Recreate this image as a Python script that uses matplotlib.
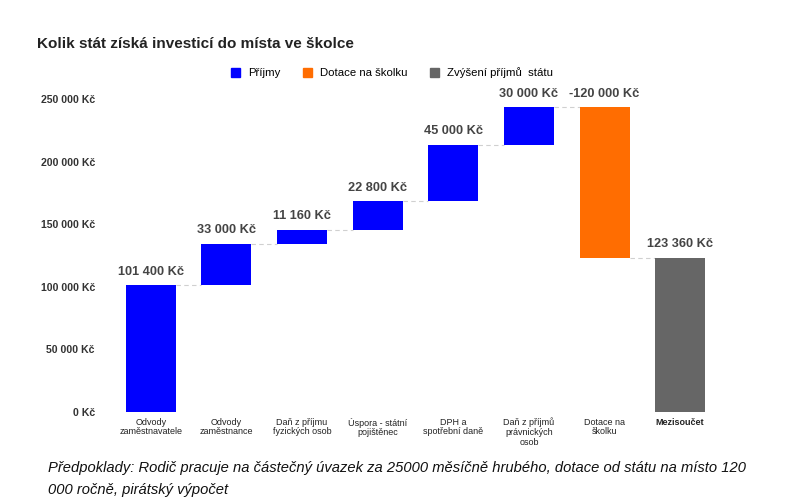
import numpy as np
import matplotlib.pyplot as plt
from matplotlib.patches import Patch

plt.rcParams['font.family'] = ['Liberation Sans', 'DejaVu Sans']

categories = ["Odvody\nzaměstnavatele", "Odvody\nzaměstnance", "Daň z příjmu\nfyzických osob",
              "Úspora - státní\npojištěnec", "DPH a\nspotřební daně", "Daň z příjmů\nprávnických\nosob",
              "Dotace na\nškolku", "Mezisoučet"]
changes = [101400, 33000, 11160, 22800, 45000, 30000, -120000]
labels = ["101 400 Kč", "33 000 Kč", "11 160 Kč", "22 800 Kč", "45 000 Kč", "30 000 Kč",
          "-120 000 Kč", "123 360 Kč"]
ticks = [0, 50000, 100000, 150000, 200000, 250000]
tick_labels = ["0 Kč", "50 000 Kč", "100 000 Kč", "150 000 Kč", "200 000 Kč", "250 000 Kč"]

blue = "#0000ff"
orange = "#ff6d01"
gray = "#666666"

# waterfall bottoms/tops
ends = np.cumsum(changes)
starts = np.concatenate([[0], ends[:-1]])
total = ends[-1]
bottoms = list(np.minimum(starts, ends)) + [0]
heights = list(np.abs(changes)) + [total]
tops = [b + h for b, h in zip(bottoms, heights)]
colors = [blue if c > 0 else orange for c in changes] + [gray]

fig = plt.figure(figsize=(8, 5.03), dpi=100)
ax = fig.add_axes([113 / 800, 1 - 412 / 503, 605 / 800, 325.5 / 503])
x = np.arange(len(categories))
ax.bar(x, heights, bottom=bottoms, width=0.66, color=colors, zorder=2)

# connector lines
levels = list(ends)
for i in range(len(categories) - 1):
    ax.plot([i + 0.33, i + 1 - 0.33], [levels[i], levels[i]], color="#d0d0d0",
            linestyle=(0, (4, 3)), linewidth=0.8, zorder=1)

for i in range(len(categories)):
    ax.text(x[i], tops[i] + 6000, labels[i], ha="center", va="bottom",
            fontsize=9.2, fontweight="bold", color="#444444")

ax.set_xlim(-0.5, len(categories) - 0.5)
ax.set_ylim(0, 260000)
ax.set_yticks(ticks)
ax.set_yticklabels(tick_labels, fontsize=7.6, fontweight="bold", color="#333333")
ax.set_xticks(x)
ax.set_xticklabels(categories, fontsize=6.5, color="#222222", linespacing=1.1)
ax.get_xticklabels()[-1].set_fontweight("bold")
ax.tick_params(length=0, pad=4)
ax.tick_params(axis="y", pad=13)
for s in ax.spines.values():
    s.set_visible(False)

fig.text(37 / 800, 1 - 44 / 503, "Kolik stát získá investicí do místa ve školce",
         fontsize=11, fontweight="bold", color="#222222", va="center")

handles = [Patch(color=blue, label="Příjmy"), Patch(color=orange, label="Dotace na školku"),
           Patch(color=gray, label="Zvýšení příjmů  státu")]
fig.legend(handles=handles, loc="center", bbox_to_anchor=(392 / 800, 1 - 73 / 503), ncol=3,
           frameon=False, fontsize=8.2, handlelength=0.8, handleheight=0.8,
           columnspacing=2.0, handletextpad=0.7)

fig.text(48 / 800, 1 - 468 / 503,
         "Předpoklady: Rodič pracuje na částečný úvazek za 25000 měsíčně hrubého, dotace od státu na místo 120",
         fontsize=10.6, style="italic", color="#111111", va="center")
fig.text(48 / 800, 1 - 490 / 503, "000 ročně, pirátský výpočet",
         fontsize=10.6, style="italic", color="#111111", va="center")

fig.savefig("out.png", dpi=100)
